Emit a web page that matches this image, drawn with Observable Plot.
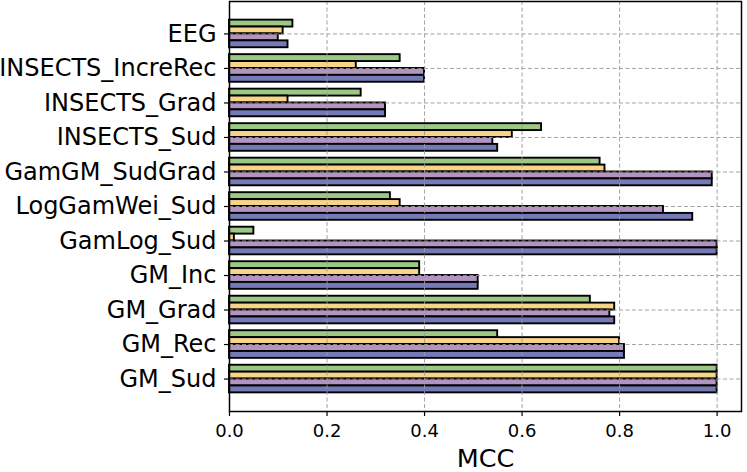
<!DOCTYPE html>
<html>
<head>
<meta charset="utf-8">
<script src="https://cdn.jsdelivr.net/npm/d3@7"></script>
<script src="https://cdn.jsdelivr.net/npm/@observablehq/plot@0.6"></script>
<style>
  html, body { margin: 0; padding: 0; background: #fff; }
  #chart svg { display: block; }
  #chart svg g[aria-label="x-axis tick label"] { font-size: 18px !important; }
  #chart svg g[aria-label="x-axis tick label"] text { font-size: 18px !important; }
</style>
</head>
<body>
<div id="chart"></div>
<script>
// Categories, top to bottom
const categories = ["EEG", "INSECTS_IncreRec", "INSECTS_Grad", "INSECTS_Sud", "GamGM_SudGrad",
  "LogGamWei_Sud", "GamLog_Sud", "GM_Inc", "GM_Grad", "GM_Rec", "GM_Sud"];
// Series values (MCC), same order as categories
const series1 = [0.13, 0.35, 0.27, 0.64, 0.76, 0.33, 0.05, 0.39, 0.74, 0.55, 1.00];
const series2 = [0.11, 0.26, 0.12, 0.58, 0.77, 0.35, 0.01, 0.39, 0.79, 0.80, 1.00];
const series3 = [0.10, 0.40, 0.32, 0.54, 0.99, 0.89, 1.00, 0.51, 0.78, 0.81, 1.00];
const series4 = [0.12, 0.40, 0.32, 0.55, 0.99, 0.95, 1.00, 0.51, 0.79, 0.81, 1.00];
const seriesNames = ["S1", "S2", "S3", "S4"];
const seriesColors = ["#9bc985", "#f7d48a", "#b394c1", "#7579b6"];
const xTicks = [0, 0.2, 0.4, 0.6, 0.8, 1.0];
const xLabel = "MCC";

const allSeries = [series1, series2, series3, series4];
const n = categories.length;
const barH = 0.2;
const rows = [];
allSeries.forEach((vals, k) => {
  vals.forEach((v, i) => {
    const pos = (n - 1 - i);              // category position (bottom = 0)
    const center = pos + (1.5 - k) * barH; // group offset
    rows.push({cat: categories[i], series: seriesNames[k], value: v,
               y1: center - barH / 2, y2: center + barH / 2});
  });
});
const catPositions = d3.range(n);

const chart = Plot.plot({
  width: 747,
  height: 472,
  marginLeft: 229,
  marginRight: 6,
  marginTop: 1,
  marginBottom: 61,
  style: {fontFamily: "DejaVu Sans", background: "#fff", color: "#000"},
  x: {domain: [0, 1.05]},
  y: {domain: [-0.94, 10.94]},
  color: {domain: seriesNames, range: seriesColors},
  marks: [
    Plot.rect(rows, {x1: 0, x2: "value", y1: "y1", y2: "y2", fill: "series",
      stroke: "#000", strokeWidth: 1.9, inset: 0}),
    Plot.ruleX(xTicks, {stroke: "#999", strokeWidth: 1, strokeDasharray: "4,2.5", strokeOpacity: 0.9}),
    Plot.ruleY(catPositions, {stroke: "#999", strokeWidth: 1, strokeDasharray: "4,2.5", strokeOpacity: 0.9}),
    Plot.axisX({ticks: xTicks, tickFormat: d3.format(".1f"), tickSize: 5, tickPadding: 8,
      fontSize: 18, label: null, strokeWidth: 1.2}),
    Plot.axisY({ticks: catPositions, tickFormat: i => categories[n - 1 - i], tickSize: 5,
      tickPadding: 8, fontSize: 24, label: null, strokeWidth: 1.2}),
    Plot.frame({stroke: "#000", strokeWidth: 1.5}),
    Plot.text([xLabel], {frameAnchor: "bottom", dy: 47, fontSize: 25.5, fill: "#000", lineAnchor: "middle"})
  ]
});
document.getElementById("chart").appendChild(chart);
</script>
</body>
</html>
